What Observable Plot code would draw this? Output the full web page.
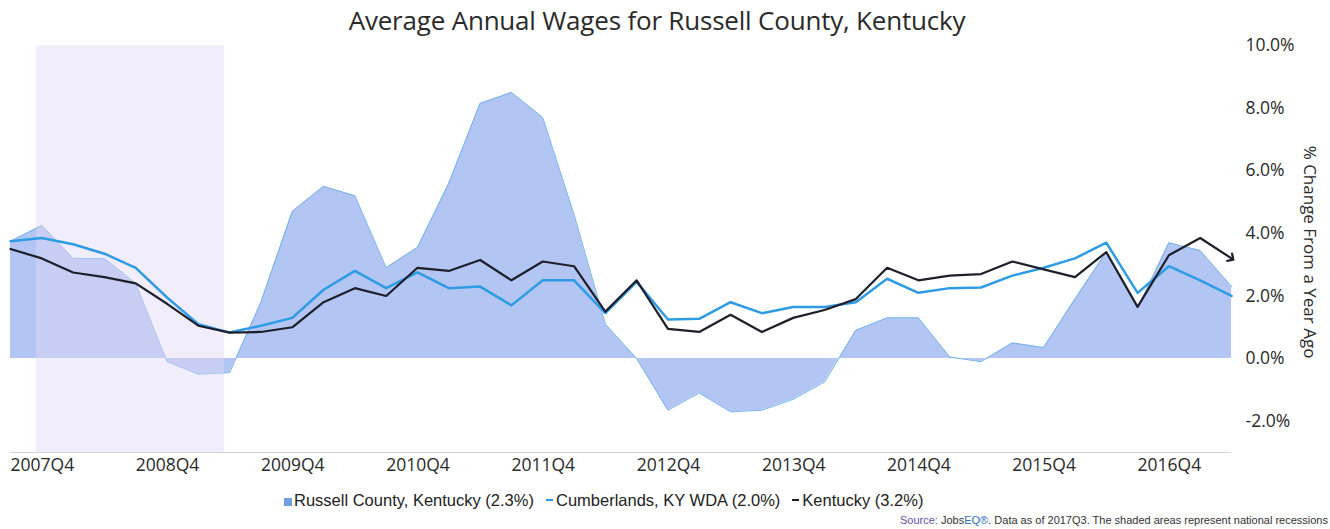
<!DOCTYPE html>
<html>
<head>
<meta charset="utf-8">
<script src="https://cdn.jsdelivr.net/npm/d3@7"></script>
<script src="https://cdn.jsdelivr.net/npm/@observablehq/plot@0.6"></script>
<style>
  body { margin: 0; background: #fff; }
  #wrap { position: relative; width: 1330px; height: 529px; overflow: hidden; background: #fff; }
  #chart { position: absolute; left: 0; top: 0; }
  #title { position: absolute; left: 0; top: 2px; width: 1314px; text-align: center;
           font-family: "Open Sans", sans-serif; font-size: 26px; color: #2a2a2a; white-space: nowrap; letter-spacing: -0.2px; }
  #legend { position: absolute; left: 284px; top: 490px; font-family: "Liberation Sans Narrow", "Arial Narrow", sans-serif;
            font-size: 16.5px; color: #222; white-space: nowrap; line-height: 20px; }
  #legend span.item { margin-right: 12px; }
  #legend .sw { display: inline-block; width: 8px; height: 8px; background: #6f9fe0; margin-right: 2px; vertical-align: 0px; }
  #legend .dash { display: inline-block; width: 7px; height: 2px; margin-right: 3px; vertical-align: 5px; }
  #caption { position: absolute; right: 2px; top: 513px; font-family: "Liberation Sans Narrow", "Arial Narrow", sans-serif;
             font-size: 11px; color: #333; white-space: nowrap; line-height: 14px; }
  #caption .src { color: #6a4fa8; }
  #caption .jobs { color: #2b6fc2; }
</style>
</head>
<body>
<div id="wrap">
  <div id="chart"></div>
  <div id="title">Average Annual Wages for Russell County, Kentucky</div>
  <div id="legend"></div>
  <div id="caption"><span class="src">Source:</span> Jobs<span class="jobs">EQ®</span>. Data as of 2017Q3. The shaded areas represent national recessions</div>
</div>
<script>
// ---- Data (year-over-year % change in average annual wages) ----
const quarters = [
  "2007Q4","2008Q1","2008Q2","2008Q3","2008Q4","2009Q1","2009Q2","2009Q3","2009Q4","2010Q1",
  "2010Q2","2010Q3","2010Q4","2011Q1","2011Q2","2011Q3","2011Q4","2012Q1","2012Q2","2012Q3",
  "2012Q4","2013Q1","2013Q2","2013Q3","2013Q4","2014Q1","2014Q2","2014Q3","2014Q4","2015Q1",
  "2015Q2","2015Q3","2015Q4","2016Q1","2016Q2","2016Q3","2016Q4","2017Q1","2017Q2","2017Q3"
];
const russell = [
  3.75, 4.25, 3.2, 3.2, 2.4, -0.1, -0.5, -0.45, 1.8, 4.7,
  5.5, 5.2, 2.9, 3.55, 5.6, 8.15, 8.5, 7.7, 4.6, 1.1,
  0.0, -1.65, -1.1, -1.7, -1.65, -1.3, -0.75, 0.9, 1.3, 1.3,
  0.05, -0.1, 0.5, 0.35, 1.9, 3.4, 1.6, 3.7, 3.45, 2.3
];
const cumberlands = [
  3.75, 3.85, 3.65, 3.35, 2.9, 1.95, 1.1, 0.83, 1.05, 1.3,
  2.2, 2.8, 2.25, 2.75, 2.25, 2.3, 1.7, 2.5, 2.5, 1.45,
  2.45, 1.25, 1.27, 1.8, 1.45, 1.65, 1.65, 1.8, 2.55, 2.1,
  2.25, 2.27, 2.65, 2.9, 3.2, 3.7, 2.1, 2.95, 2.5, 2.0
];
const kentucky = [
  3.5, 3.2, 2.75, 2.6, 2.4, 1.75, 1.05, 0.83, 0.85, 1.0,
  1.8, 2.25, 2.0, 2.9, 2.8, 3.15, 2.5, 3.1, 2.95, 1.5,
  2.5, 0.95, 0.85, 1.4, 0.85, 1.3, 1.55, 1.9, 2.9, 2.5,
  2.65, 2.7, 3.1, 2.85, 2.6, 3.4, 1.65, 3.3, 3.85, 3.2
];
const seriesNames = ["Russell County, Kentucky", "Cumberlands, KY WDA", "Kentucky"];
const latestValues = ["2.3%", "2.0%", "3.2%"];
const xTickLabels = ["2007Q4","2008Q4","2009Q4","2010Q4","2011Q4","2012Q4","2013Q4","2014Q4","2015Q4","2016Q4"];
const yTicks = [-2, 0, 2, 4, 6, 8, 10];
const recession = { start: "2007-12", end: "2009-06" };
const yAxisTitle = "% Change From a Year Ago";

// ---- Build ----
const rows = quarters.map((q, i) => ({ i, q, russell: russell[i], cumberlands: cumberlands[i], kentucky: kentucky[i] }));
const qIndex = q => quarters.indexOf(q);
// month string -> fractional quarter index (mid-month)
const monthIdx = s => { const [y, m] = s.split("-").map(Number); return ((y * 12 + m - 1) - (2007 * 12 + 9)) / 3 + 1 / 6; };

const colors = { area: "#b3c5f2", areaEdge: "#72b4ec", cumb: "#2e9be5", ky: "#1d1f2a", rec: "#e0d8f4" };

const chart = Plot.plot({
  width: 1330,
  height: 529,
  marginLeft: 10,
  marginRight: 99,
  marginTop: 45,
  marginBottom: 77,
  x: { type: "linear", domain: [0, quarters.length - 1] },
  y: { domain: [-3, 10] },
  style: { fontFamily: "'Open Sans', sans-serif", color: "#2a2a2a", background: "transparent" },
  marks: [
    Plot.areaY(rows, { x: "i", y: "russell", fill: colors.area }),
    Plot.lineY(rows, { x: "i", y: "russell", stroke: colors.areaEdge, strokeWidth: 1 }),
    Plot.rect([recession], { x1: d => monthIdx(d.start), x2: d => monthIdx(d.end), y1: -3, y2: 10, fill: colors.rec, fillOpacity: 0.45 }),
    Plot.lineY(rows, { x: "i", y: "cumberlands", stroke: colors.cumb, strokeWidth: 2.5 }),
    Plot.lineY(rows, { x: "i", y: "kentucky", stroke: colors.ky, strokeWidth: 2.2, markerEnd: "arrow" }),
    Plot.ruleY([-3], { stroke: "#d4d4dc", strokeWidth: 1 }),
    Plot.axisX({
      ticks: xTickLabels.map(qIndex), tickFormat: i => quarters[i], textAnchor: "start",
      tickSize: 0, tickPadding: 6, fontSize: 17.5, label: null
    }),
    Plot.axisY({
      anchor: "right", ticks: yTicks, tickFormat: d => d.toFixed(1) + "%",
      tickSize: 0, tickPadding: 14, fontSize: 17.5, label: null, textAnchor: "start"
    }),
    Plot.text([yAxisTitle], { frameAnchor: "right", rotate: 90, dx: 78, dy: 3, textAnchor: "middle", fontSize: 17, fill: "#2a2a2a" })
  ]
});
document.getElementById("chart").appendChild(chart);

// ---- Legend ----
const legend = document.getElementById("legend");
const marks = [
  `<span class="sw"></span>`,
  `<span class="dash" style="background:${colors.cumb}"></span>`,
  `<span class="dash" style="background:${colors.ky}"></span>`
];
legend.innerHTML = seriesNames.map((n, k) => `<span class="item">${marks[k]}${n} (${latestValues[k]})</span>`).join("");
</script>
</body>
</html>
